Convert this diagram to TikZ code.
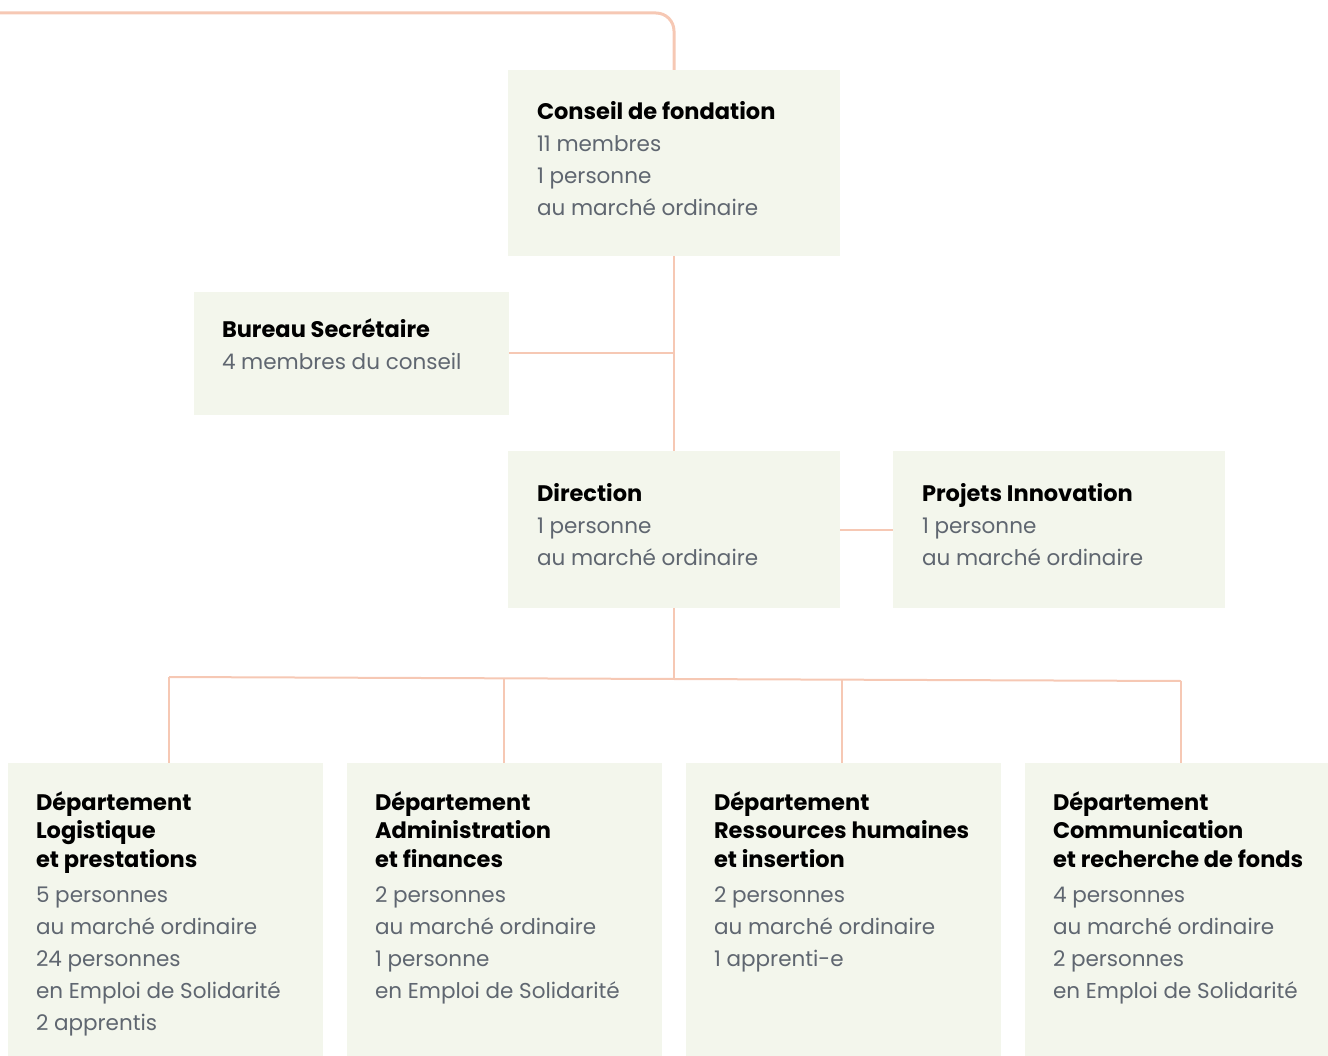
\documentclass[tikz,border=0pt]{standalone}
\usepackage{fontspec}
\setmainfont{Poppins}
\definecolor{boxfill}{HTML}{F3F6EC}
\definecolor{linec}{HTML}{F6C8B4}
\definecolor{textgrey}{HTML}{5F6670}
\newcommand{\orghd}[1]{{\color{black}\fontsize{22.5}{32}\selectfont\bfseries #1}}
\newcommand{\orgtxt}[1]{\parbox[t]{300pt}{\raggedright\fontsize{21.5}{32}\selectfont\leavevmode #1}}
\begin{document}
\begin{tikzpicture}[x=1pt,y=-1pt,
  orgbox/.style={fill=boxfill,draw=none,anchor=north west,inner sep=0pt,outer sep=0pt},
  orgtext/.style={anchor=base west,inner sep=0pt,outer sep=0pt,text=textgrey},
  conn/.style={draw=linec,line width=2pt}]
\useasboundingbox (0,0) rectangle (1328,1056);
% boxes
\node[orgbox,minimum width=332pt,minimum height=186pt] (conseil) at (508,70) {};
\node[orgbox,minimum width=315pt,minimum height=123pt] (bureau) at (194,292) {};
\node[orgbox,minimum width=332pt,minimum height=157pt] (direction) at (508,451) {};
\node[orgbox,minimum width=332pt,minimum height=157pt] (projets) at (893,451) {};
\node[orgbox,minimum width=315pt,minimum height=310pt] (d1) at (8,763) {};
\node[orgbox,minimum width=315pt,minimum height=310pt] (d2) at (347,763) {};
\node[orgbox,minimum width=315pt,minimum height=310pt] (d3) at (686,763) {};
\node[orgbox,minimum width=315pt,minimum height=310pt] (d4) at (1025,763) {};
% texts
\node[orgtext] (tconseil) at (537,120) {\orgtxt{\orghd{Conseil de fondation}\\11 membres\\1 personne\\au marché ordinaire}};
\node[orgtext] (tbureau) at (222,338) {\orgtxt{\orghd{Bureau Secrétaire}\\4 membres du conseil}};
\node[orgtext] (tdirection) at (537,501) {\orgtxt{\orghd{Direction}\\1 personne\\au marché ordinaire}};
\node[orgtext] (tprojets) at (922,501) {\orgtxt{\orghd{Projets Innovation}\\1 personne\\au marché ordinaire}};
\node[orgtext] (td1) at (36,810) {\orgtxt{\orghd{Département}\\[-3.5pt]\orghd{Logistique}\\[-3.5pt]\orghd{et prestations}\\[3pt]5 personnes\\au marché ordinaire\\24 personnes\\en Emploi de Solidarité\\2 apprentis}};
\node[orgtext] (td2) at (375,810) {\orgtxt{\orghd{Département}\\[-3.5pt]\orghd{Administration}\\[-3.5pt]\orghd{et finances}\\[3pt]2 personnes\\au marché ordinaire\\1 personne\\en Emploi de Solidarité}};
\node[orgtext] (td3) at (714,810) {\orgtxt{\orghd{Département}\\[-3.5pt]\orghd{Ressources humaines}\\[-3.5pt]\orghd{et insertion}\\[3pt]2 personnes\\au marché ordinaire\\1 apprenti-e}};
\node[orgtext] (td4) at (1053,810) {\orgtxt{\orghd{Département}\\[-3.5pt]\orghd{Communication}\\[-3.5pt]\orghd{et recherche de fonds}\\[3pt]4 personnes\\au marché ordinaire\\2 personnes\\en Emploi de Solidarité}};
% connectors
\coordinate (topstart) at (0,13);
\coordinate (bureaujoin) at (conseil.south |- bureau.east);
\coordinate (d1top) at ([xshift=3.5pt]d1.north);
\coordinate (d2top) at ([xshift=-0.5pt]d2.north);
\coordinate (d3top) at ([xshift=-1.5pt]d3.north);
\coordinate (d4top) at ([xshift=-1.5pt]d4.north);
\coordinate (hubL) at (d1top |- 0,677);
\coordinate (hubR) at (d4top |- 0,681);
\coordinate (hubM) at (direction.south |- 0,679);
\draw[conn,line width=3pt,rounded corners=18pt] (topstart) -- (conseil.north |- topstart) -- (conseil.north);
\draw[conn] (conseil.south) -- (direction.north);
\draw[conn] (bureau.east) -- (bureaujoin);
\draw[conn] (direction.east) -- (projets.west);
\draw[conn] (direction.south) -- (hubM);
\draw[conn] (hubL) -- (hubR);
\draw[conn] (hubL) -- (d1top);
\draw[conn] (d2top |- 0,678) -- (d2top);
\draw[conn] (d3top |- 0,680) -- (d3top);
\draw[conn] (hubR) -- (d4top);
\end{tikzpicture}
\end{document}
